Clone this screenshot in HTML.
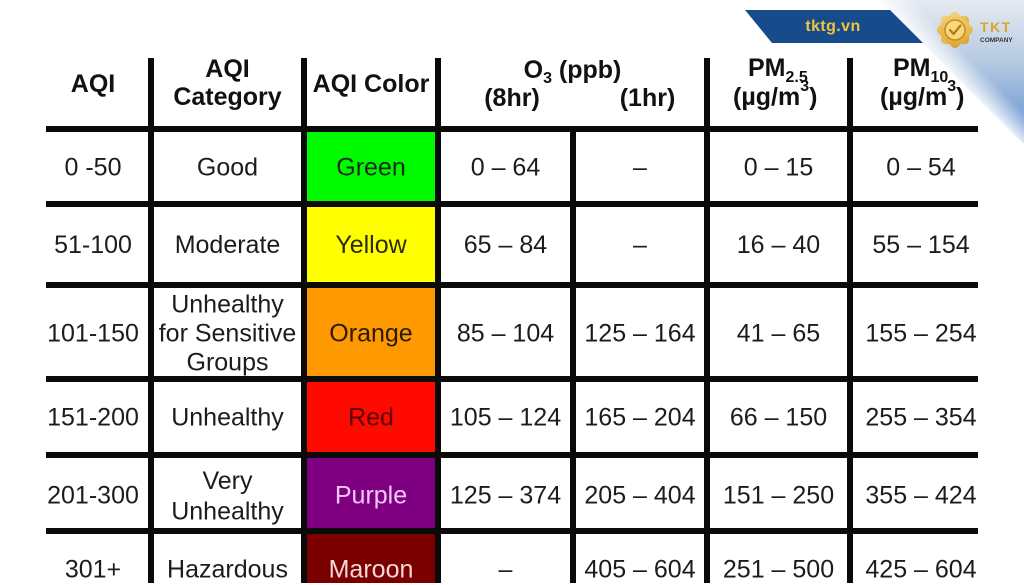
<!DOCTYPE html>
<html>
<head>
<meta charset="utf-8">
<style>
  html, body { margin: 0; padding: 0; background: #ffffff; }
  body { width: 1024px; height: 585px; overflow: hidden; }
  svg { display: block; }
  .h { font-family: "Liberation Sans", Arial, sans-serif; font-weight: bold; font-size: 25px; fill: #111111; }
  .b { font-family: "Liberation Sans", Arial, sans-serif; font-size: 25px; fill: #1c1c1c; }
</style>
</head>
<body>
<svg width="1024" height="585" viewBox="0 0 1024 585" xmlns="http://www.w3.org/2000/svg">
  <defs>
    <linearGradient id="bg" x1="0" y1="0" x2="0" y2="144" gradientUnits="userSpaceOnUse">
      <stop offset="0" stop-color="#e6ebf1"/>
      <stop offset="0.45" stop-color="#b3c8e2"/>
      <stop offset="1" stop-color="#5a8bcd"/>
    </linearGradient>
    <linearGradient id="glow" x1="952" y1="72" x2="968" y2="56" gradientUnits="userSpaceOnUse">
      <stop offset="0" stop-color="#ffffff" stop-opacity="0.85"/>
      <stop offset="1" stop-color="#ffffff" stop-opacity="0"/>
    </linearGradient>
    <linearGradient id="gold" x1="0" y1="0" x2="1" y2="1">
      <stop offset="0" stop-color="#f6d37a"/>
      <stop offset="1" stop-color="#dca232"/>
    </linearGradient>
  </defs>

  <!-- colored cells -->
  <rect x="307" y="132" width="128" height="69" fill="#00fb00"/>
  <rect x="307" y="207" width="128" height="75" fill="#ffff00"/>
  <rect x="307" y="288" width="128" height="88" fill="#ff9900"/>
  <rect x="307" y="382" width="128" height="70" fill="#ff0a00"/>
  <rect x="307" y="458" width="128" height="70" fill="#7e0080"/>
  <rect x="307" y="534" width="128" height="49" fill="#7a0000"/>

  <!-- horizontal lines -->
  <rect x="46" y="126" width="932" height="6" fill="#0a0a0a"/>
  <rect x="46" y="201" width="932" height="6" fill="#0a0a0a"/>
  <rect x="46" y="282" width="932" height="6" fill="#0a0a0a"/>
  <rect x="46" y="376" width="932" height="6" fill="#0a0a0a"/>
  <rect x="46" y="452" width="932" height="6" fill="#0a0a0a"/>
  <rect x="46" y="528" width="932" height="6" fill="#0a0a0a"/>

  <!-- vertical lines -->
  <rect x="148" y="58" width="6" height="525" fill="#0a0a0a"/>
  <rect x="301" y="58" width="6" height="525" fill="#0a0a0a"/>
  <rect x="435" y="58" width="6" height="525" fill="#0a0a0a"/>
  <rect x="570" y="126" width="6" height="457" fill="#0a0a0a"/>
  <rect x="704" y="58" width="6" height="525" fill="#0a0a0a"/>
  <rect x="847" y="58" width="6" height="525" fill="#0a0a0a"/>

  <!-- header -->
  <text class="h" x="93" y="92" text-anchor="middle">AQI</text>
  <text class="h" x="227.5" y="77" text-anchor="middle">AQI</text>
  <text class="h" x="227.5" y="105" text-anchor="middle">Category</text>
  <text class="h" x="371" y="92" text-anchor="middle">AQI Color</text>
  <text class="h" x="572.5" y="78" text-anchor="middle">O<tspan font-size="16" dy="5">3</tspan><tspan dy="-5"> (ppb)</tspan></text>
  <text class="h" x="512" y="106" text-anchor="middle">(8hr)</text>
  <text class="h" x="647.5" y="106" text-anchor="middle">(1hr)</text>
  <text class="h" x="748" y="76">PM<tspan font-size="16" dy="6">2.5</tspan></text>
  <text class="h" x="733" y="105">(µg/m<tspan font-size="16" dy="-14">3</tspan><tspan dy="14">)</tspan></text>
  <text class="h" x="893" y="76">PM<tspan font-size="16" dy="6">10</tspan></text>
  <text class="h" x="880" y="105">(µg/m<tspan font-size="16" dy="-14">3</tspan><tspan dy="14">)</tspan></text>

  <!-- row 1 -->
  <text class="b" x="93" y="175.5" text-anchor="middle">0 -50</text>
  <text class="b" x="227.5" y="175.5" text-anchor="middle">Good</text>
  <text class="b" x="371" y="175.5" text-anchor="middle" style="fill:#1a2a1a">Green</text>
  <text class="b" x="505.5" y="175.5" text-anchor="middle">0 – 64</text>
  <text class="b" x="640" y="175.5" text-anchor="middle">–</text>
  <text class="b" x="778.5" y="175.5" text-anchor="middle">0 – 15</text>
  <text class="b" x="921" y="175.5" text-anchor="middle">0 – 54</text>

  <!-- row 2 -->
  <text class="b" x="93" y="253" text-anchor="middle">51-100</text>
  <text class="b" x="227.5" y="253" text-anchor="middle">Moderate</text>
  <text class="b" x="371" y="253" text-anchor="middle" style="fill:#2a2a10">Yellow</text>
  <text class="b" x="505.5" y="253" text-anchor="middle">65 – 84</text>
  <text class="b" x="640" y="253" text-anchor="middle">–</text>
  <text class="b" x="778.5" y="253" text-anchor="middle">16 – 40</text>
  <text class="b" x="921" y="253" text-anchor="middle">55 – 154</text>

  <!-- row 3 -->
  <text class="b" x="93" y="341.5" text-anchor="middle">101-150</text>
  <text class="b" x="227.5" y="312.5" text-anchor="middle">Unhealthy</text>
  <text class="b" x="227.5" y="341.5" text-anchor="middle">for Sensitive</text>
  <text class="b" x="227.5" y="370.5" text-anchor="middle">Groups</text>
  <text class="b" x="371" y="341.5" text-anchor="middle" style="fill:#2a1a08">Orange</text>
  <text class="b" x="505.5" y="341.5" text-anchor="middle">85 – 104</text>
  <text class="b" x="640" y="341.5" text-anchor="middle">125 – 164</text>
  <text class="b" x="778.5" y="341.5" text-anchor="middle">41 – 65</text>
  <text class="b" x="921" y="341.5" text-anchor="middle">155 – 254</text>

  <!-- row 4 -->
  <text class="b" x="93" y="425.5" text-anchor="middle">151-200</text>
  <text class="b" x="227.5" y="425.5" text-anchor="middle">Unhealthy</text>
  <text class="b" x="371" y="425.5" text-anchor="middle" style="fill:#5a0606">Red</text>
  <text class="b" x="505.5" y="425.5" text-anchor="middle">105 – 124</text>
  <text class="b" x="640" y="425.5" text-anchor="middle">165 – 204</text>
  <text class="b" x="778.5" y="425.5" text-anchor="middle">66 – 150</text>
  <text class="b" x="921" y="425.5" text-anchor="middle">255 – 354</text>

  <!-- row 5 -->
  <text class="b" x="93" y="503.5" text-anchor="middle">201-300</text>
  <text class="b" x="227.5" y="489" text-anchor="middle">Very</text>
  <text class="b" x="227.5" y="519.5" text-anchor="middle">Unhealthy</text>
  <text class="b" x="371" y="503.5" text-anchor="middle" style="fill:#f4c8f4">Purple</text>
  <text class="b" x="505.5" y="503.5" text-anchor="middle">125 – 374</text>
  <text class="b" x="640" y="503.5" text-anchor="middle">205 – 404</text>
  <text class="b" x="778.5" y="503.5" text-anchor="middle">151 – 250</text>
  <text class="b" x="921" y="503.5" text-anchor="middle">355 – 424</text>

  <!-- row 6 -->
  <text class="b" x="93" y="577.5" text-anchor="middle">301+</text>
  <text class="b" x="227.5" y="577.5" text-anchor="middle">Hazardous</text>
  <text class="b" x="371" y="577.5" text-anchor="middle" style="fill:#f6d6d6">Maroon</text>
  <text class="b" x="505.5" y="577.5" text-anchor="middle">–</text>
  <text class="b" x="640" y="577.5" text-anchor="middle">405 – 604</text>
  <text class="b" x="778.5" y="577.5" text-anchor="middle">251 – 500</text>
  <text class="b" x="921" y="577.5" text-anchor="middle">425 – 604</text>

  <!-- top-right decoration -->
  <polygon points="880,0 1024,0 1024,144" fill="url(#bg)"/>
  <polygon points="880,0 1024,0 1024,144" fill="url(#glow)"/>
  <polygon points="745,10 890,10 923,43 772,43" fill="#174b8c"/>
  <text x="833" y="31" text-anchor="middle" style="font-family:'Liberation Sans',Arial,sans-serif;font-weight:bold;font-size:16px;fill:#f3c43a;letter-spacing:0.4px">tktg.vn</text>

  <!-- logo -->
  <g transform="translate(955,30)">
    <rect x="-14" y="-14" width="28" height="28" rx="4" fill="url(#gold)"/>
    <rect x="-14" y="-14" width="28" height="28" rx="4" fill="url(#gold)" transform="rotate(45)"/>
    <circle cx="0" cy="0" r="10" fill="#f7d880" stroke="#c48d1c" stroke-width="1.5"/>
    <path d="M-5,0 L-1.5,4 L5.5,-4.5" fill="none" stroke="#b27a12" stroke-width="2.2" stroke-linecap="round" stroke-linejoin="round"/>
  </g>
  <text x="980" y="32" style="font-family:'Liberation Sans',Arial,sans-serif;font-weight:bold;font-size:14px;fill:#dba52e;letter-spacing:1.5px">TKT</text>
  <text x="980" y="42" style="font-family:'Liberation Sans',Arial,sans-serif;font-weight:bold;font-size:6.5px;fill:#333333">COMPANY</text>
</svg>
</body>
</html>
